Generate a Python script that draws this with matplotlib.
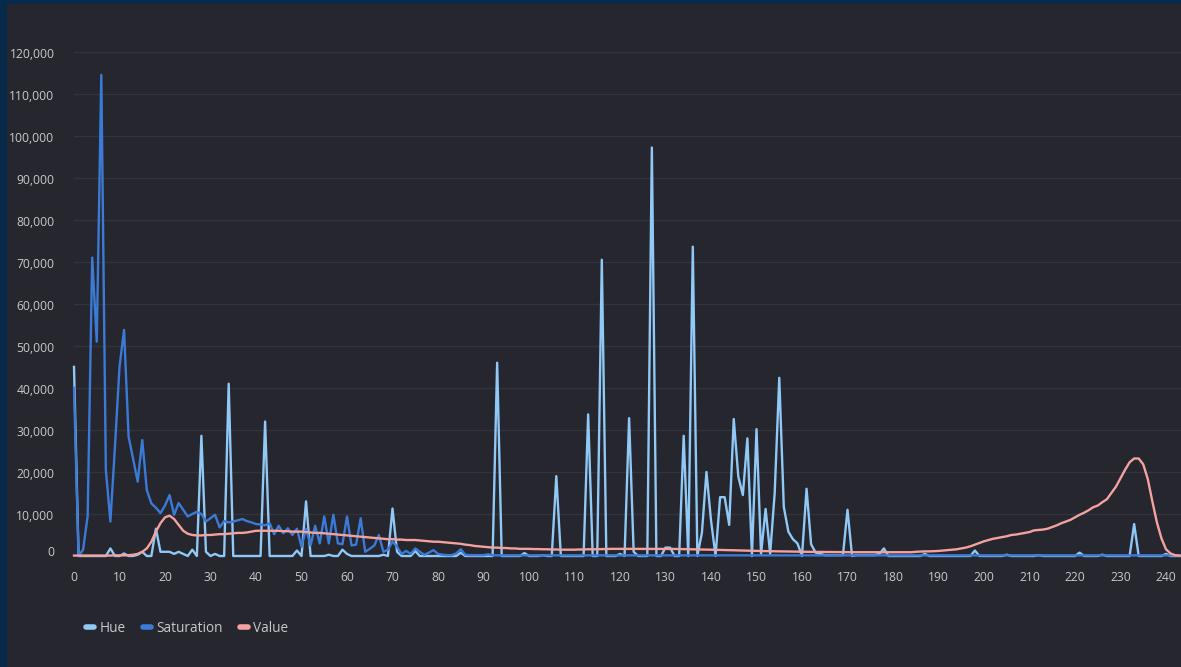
import matplotlib
matplotlib.use("Agg")
import matplotlib.pyplot as plt
from matplotlib.patches import Rectangle
from matplotlib.lines import Line2D
from matplotlib.ticker import FuncFormatter
import matplotlib.transforms as mtransforms

# ---------------- data ----------------
series_names = ["Hue", "Saturation", "Value"]

hue = [
    45000, 0, 0, 0, 0, 0, 0, 0, 1800, 0,
    0, 600, 0, 0, 300, 1000, 0, 0, 6500, 1000,
    1000, 1000, 500, 1000, 500, 0, 1500, 0, 28600, 1000,
    0, 500, 0, 0, 41000, 0, 0, 0, 0, 0,
    0, 0, 32000, 0, 0, 0, 0, 0, 0, 1300,
    0, 13000, 0, 0, 0, 0, 300, 0, 0, 1500,
    500, 0, 0, 0, 0, 0, 0, 0, 300, 0,
    11300, 1000, 0, 0, 0, 1200, 0, 0, 0, 0,
    0, 0, 0, 0, 0, 800, 0, 0, 0, 0,
    0, 0, 0, 46000, 0, 0, 0, 0, 0, 700,
    0, 0, 0, 200, 0, 0, 19000, 0, 0, 0,
    0, 0, 0, 33700, 0, 0, 70500, 0, 0, 0,
    500, 0, 32800, 1000, 0, 0, 0, 97200, 0, 0,
    2000, 2000, 0, 0, 28600, 0, 73600, 0, 5500, 20000,
    8500, 0, 14000, 14000, 7400, 32600, 18900, 14500, 28000, 0,
    30200, 500, 11200, 500, 15000, 42400, 11700, 5800, 4000, 3000,
    0, 16000, 2800, 800, 500, 200, 200, 200, 200, 200,
    11000, 0, 200, 200, 200, 200, 200, 500, 1800, 0,
    0, 0, 0, 0, 0, 0, 0, 500, 0, 0,
    0, 0, 0, 0, 0, 0, 0, 0, 1300, 0,
    0, 0, 0, 0, 0, 300, 0, 0, 0, 0,
    0, 0, 200, 0, 0, 0, 0, 0, 0, 0,
    0, 800, 0, 0, 0, 0, 300, 0, 0, 0,
    0, 0, 0, 7600, 0, 0, 0, 0, 0, 0,
    500, 0, 0, 0,
]

saturation = [
    40000, 0, 1500, 9500, 71000, 51000, 114500, 20500, 8200, 26000,
    45000, 53800, 28400, 23000, 17700, 27600, 15700, 12500, 11500, 10200,
    12000, 14500, 9800, 12600, 11000, 9400, 10000, 10500, 10000, 8200,
    9000, 9800, 6800, 8300, 8000, 8200, 8500, 8800, 8300, 8000,
    7600, 7500, 7300, 7800, 5200, 7200, 5400, 6600, 5000, 6500,
    2200, 6500, 2500, 7200, 3000, 9400, 3000, 9800, 3000, 2800,
    9400, 2500, 2700, 9000, 1000, 1700, 2500, 5000, 1000, 1500,
    3400, 2200, 500, 1200, 500, 1800, 1000, 300, 800, 1400,
    500, 300, 200, 200, 600, 1600, 300, 200, 200, 200,
    200, 400, 200, 150, 150, 150, 150, 150, 150, 150,
    150, 150, 150, 150, 150, 150, 150, 150, 150, 150,
    150, 150, 150, 150, 150, 150, 150, 150, 150, 150,
    150, 150, 150, 150, 150, 150, 150, 150, 150, 150,
    150, 150, 150, 150, 150, 150, 150, 150, 150, 150,
    150, 150, 150, 150, 150, 150, 150, 150, 150, 150,
    150, 150, 150, 150, 150, 150, 150, 150, 150, 150,
    150, 150, 150, 150, 150, 150, 150, 150, 150, 150,
    150, 150, 150, 150, 150, 150, 150, 150, 150, 150,
    150, 150, 150, 150, 150, 150, 150, 150, 150, 150,
    150, 150, 150, 150, 150, 150, 150, 150, 150, 150,
    150, 150, 150, 150, 150, 150, 150, 150, 150, 150,
    150, 150, 150, 150, 150, 150, 150, 150, 150, 150,
    150, 150, 150, 150, 150, 150, 150, 150, 150, 150,
    150, 150, 150, 150, 150, 150, 150, 150, 150, 150,
    150, 150, 150, 150,
]

value = [
    100, 100, 100, 100, 100, 100, 100, 100, 100, 150,
    150, 150, 200, 300, 500, 1000, 1800, 3400, 5800, 7800,
    9200, 9600, 8800, 7400, 6000, 5300, 5000, 4900, 4900, 5000,
    5000, 5100, 5200, 5200, 5300, 5400, 5500, 5500, 5600, 5800,
    6000, 6000, 6000, 6000, 6000, 6000, 5900, 5900, 5800, 5800,
    5800, 5700, 5600, 5500, 5500, 5400, 5300, 5200, 5100, 5000,
    4900, 4800, 4700, 4600, 4500, 4400, 4300, 4200, 4100, 4000,
    4000, 3900, 3900, 3800, 3800, 3800, 3700, 3600, 3500, 3400,
    3400, 3300, 3200, 3100, 3000, 2900, 2700, 2600, 2400, 2300,
    2200, 2100, 2000, 2000, 1900, 1900, 1800, 1800, 1700, 1700,
    1700, 1650, 1650, 1600, 1600, 1550, 1550, 1500, 1500, 1500,
    1500, 1550, 1550, 1600, 1600, 1600, 1650, 1650, 1700, 1700,
    1700, 1700, 1700, 1700, 1700, 1700, 1700, 1700, 1700, 1700,
    1700, 1700, 1680, 1660, 1640, 1620, 1600, 1580, 1560, 1540,
    1500, 1470, 1440, 1410, 1380, 1350, 1320, 1290, 1260, 1230,
    1200, 1180, 1160, 1140, 1120, 1100, 1080, 1060, 1040, 1020,
    1000, 990, 980, 970, 960, 950, 940, 930, 920, 910,
    900, 900, 900, 900, 900, 900, 900, 900, 900, 900,
    900, 900, 900, 900, 900, 1000, 1050, 1100, 1100, 1150,
    1200, 1300, 1400, 1500, 1600, 1800, 2000, 2300, 2700, 3100,
    3500, 3800, 4100, 4300, 4500, 4700, 5000, 5100, 5300, 5500,
    5700, 6100, 6200, 6300, 6500, 6900, 7300, 7800, 8200, 8600,
    9200, 9800, 10300, 10900, 11600, 12000, 12800, 13500, 15000, 16500,
    18500, 20500, 22300, 23200, 23200, 21800, 18300, 13000, 8000, 4200,
    1600, 600, 200, 100,
]

x_values = list(range(len(hue)))
y_ticks = list(range(0, 120001, 10000))
x_ticks = list(range(0, 241, 10))

# ---------------- style ----------------
frame_color = "#07294a"
panel_color = "#26262e"
grid_color = "#33333b"
text_color = "#c8c8cc"
colors = ["#90c8f6", "#3b7ad6", "#f3a29e"]

W, H = 1181, 667
fig = plt.figure(figsize=(W / 100, H / 100), dpi=100, facecolor=frame_color)
fig.patches.append(Rectangle((7 / W, 0), 1, (H - 4) / H, transform=fig.transFigure,
                             facecolor=panel_color, edgecolor="none", zorder=-10))

left_px, right_px = 74, W
top_px, bottom_px = 51.7, 556
ax = fig.add_axes([left_px / W, (H - bottom_px) / H, (right_px - left_px) / W,
                   (bottom_px - top_px) / H])
ax.set_zorder(5)
ax.set_facecolor("none")

for name, data, c in zip(series_names, [hue, saturation, value], colors):
    ax.plot(x_values, data, color=c, lw=1.7, solid_joinstyle="round",
            label=name, clip_on=False, zorder=3)

ax.set_xlim(0, (right_px - left_px) / 4.55)
ax.set_ylim(0, 120000)
ax.set_yticks(y_ticks)
ax.set_xticks(x_ticks)
ax.yaxis.set_major_formatter(FuncFormatter(lambda v, p: f"{int(v):,}"))
ax.grid(axis="y", color=grid_color, lw=1.0, zorder=0)
ax.grid(axis="x", visible=False)
for s in ax.spines.values():
    s.set_visible(False)
ax.tick_params(axis="both", length=0, colors=text_color, labelsize=8.7)
ax.tick_params(axis="y", pad=14)
ax.tick_params(axis="x", pad=11)
for lab in ax.get_yticklabels() + ax.get_xticklabels():
    lab.set_fontfamily("Open Sans")
off = mtransforms.ScaledTranslation(0, -1 / 100, fig.dpi_scale_trans)
off0 = mtransforms.ScaledTranslation(0, 5 / 100, fig.dpi_scale_trans)
for tv, lab in zip(y_ticks, ax.get_yticklabels()):
    lab.set_transform(lab.get_transform() + (off0 if tv == 0 else off))

handles = [Line2D([0], [0], color=c, lw=4, solid_capstyle="round") for c in colors]
leg = fig.legend(handles, series_names, loc="center left",
                 bbox_to_anchor=(74 / W, (H - 628) / H), ncol=3, frameon=False,
                 handlelength=0.6, handletextpad=0.35, columnspacing=1.3,
                 prop={"family": "Open Sans", "size": 9.8})
for t in leg.get_texts():
    t.set_color(text_color)

fig.savefig("out.png", dpi=100, facecolor=frame_color)
